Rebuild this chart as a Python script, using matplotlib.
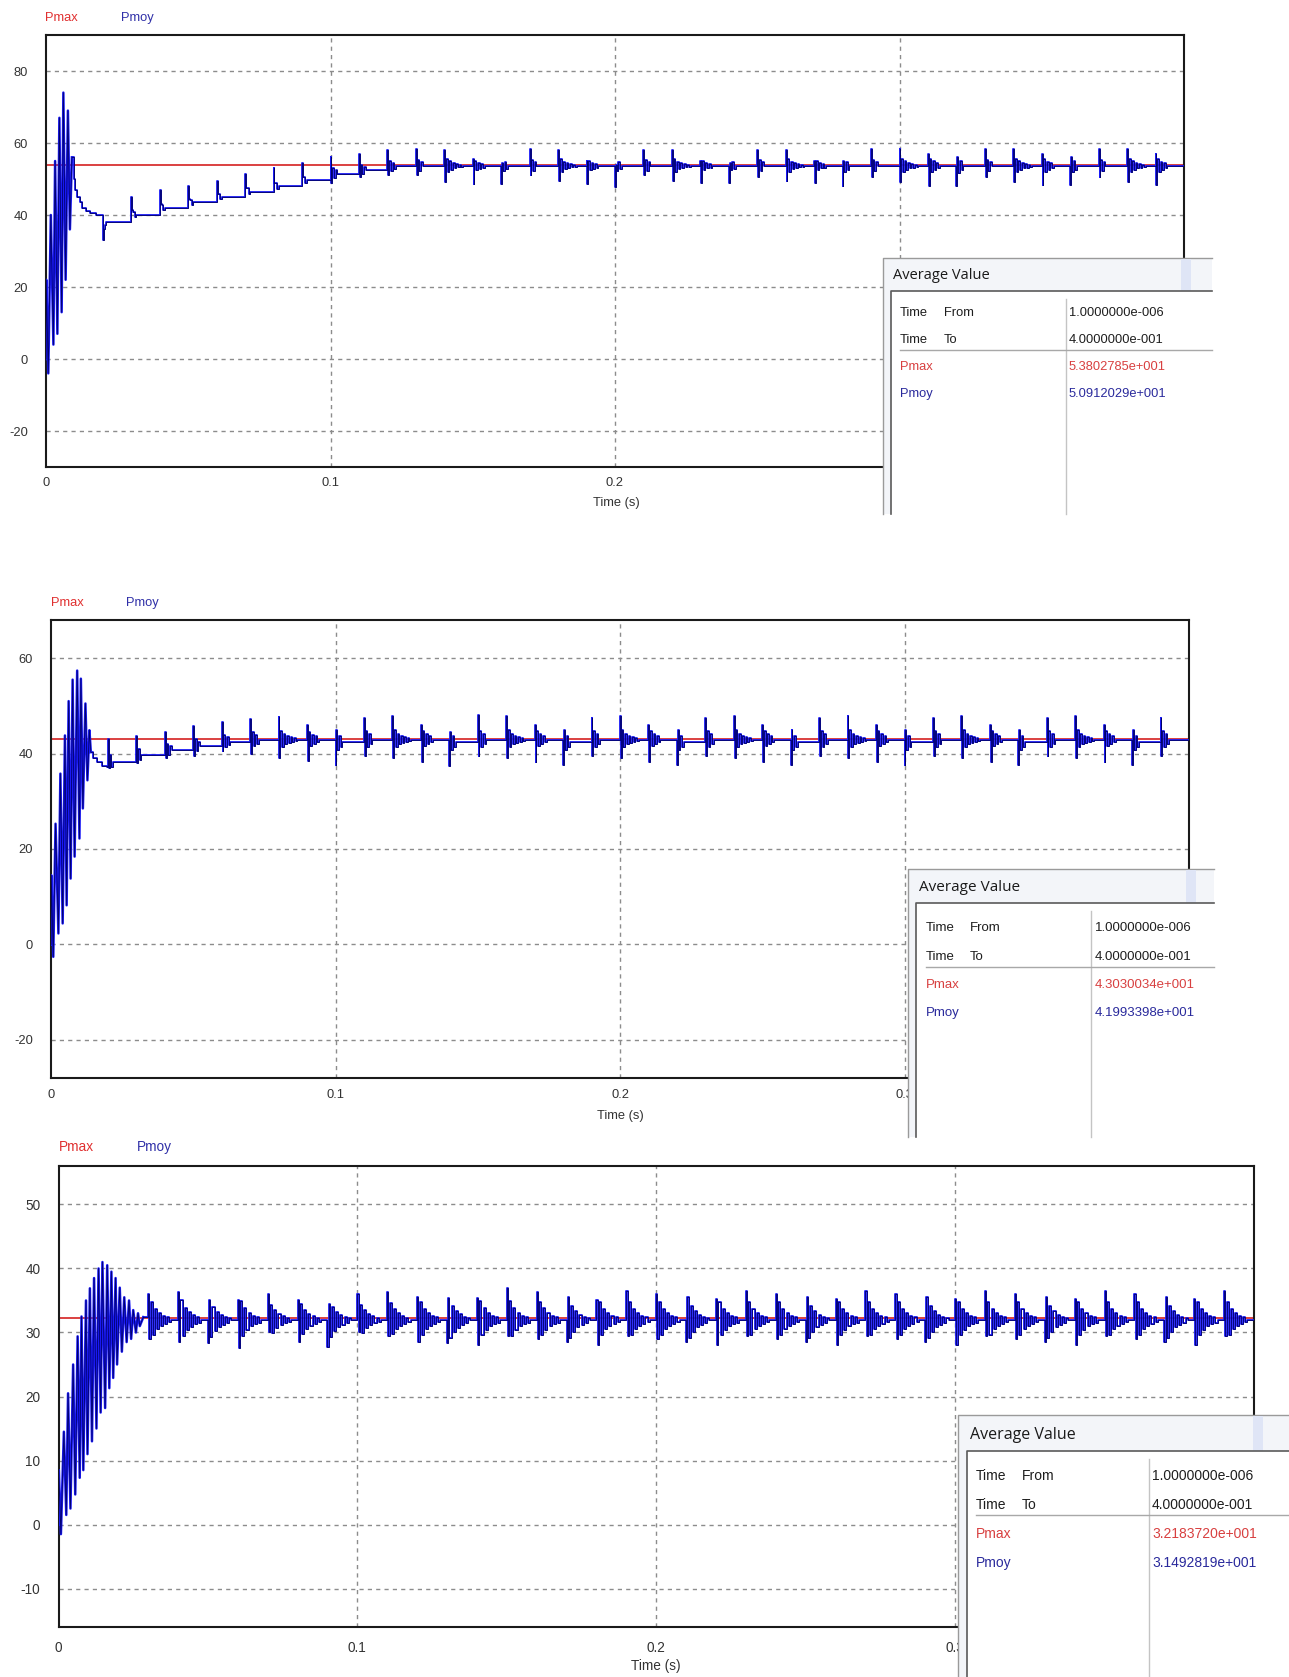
import matplotlib
matplotlib.use("Agg")
import matplotlib.pyplot as plt
from matplotlib.patches import Rectangle

W, H = 1289, 1677
DPI = 100

# ---------------- shared ----------------
time_ticks = [0, 0.1, 0.2, 0.3, 0.4]
time_tick_labels = ["0", "0.1", "0.2", "0.3", "0.4"]
ring_frac = [1.0, 0.8, 0.64, 0.5, 0.4, 0.32, 0.25, 0.2, 0.16, 0.12, 0.1, 0.08]
dialog_rows = ["Time", "Time", "Pmax", "Pmoy"]
dialog_rows2 = ["From", "To", "", ""]

# ---------------- panel 1 ----------------
p1_yticks = [-20, 0, 20, 40, 60, 80]
p1_ylim = [-30, 90]
p1_pmax_avg = 53.802785
p1_values = ["1.0000000e-006", "4.0000000e-001", "5.3802785e+001", "5.0912029e+001"]
p1_start_t = [0.0, 0.0001, 0.0008, 0.0017, 0.0026, 0.0032, 0.0040, 0.0047, 0.0055,
              0.0061, 0.0069, 0.0077, 0.0084, 0.0091]
p1_start_v = [0, 22, -4, 40, 4, 55, 7, 67, 13, 74, 22, 69, 36, 56]
p1_settle_t = [0.0091, 0.0097, 0.0103, 0.0110, 0.0118, 0.0128, 0.0140, 0.0155, 0.0175]
p1_settle_v = [56, 50, 47, 45, 43.5, 42, 41, 40.5, 40]
p1_burst_t = [0.02, 0.03, 0.04, 0.05, 0.06, 0.07, 0.08, 0.09, 0.10, 0.11, 0.12,
              0.13, 0.14, 0.15, 0.16, 0.17, 0.18, 0.19, 0.20, 0.21, 0.22, 0.23,
              0.24, 0.25, 0.26, 0.27, 0.28, 0.29, 0.30, 0.31, 0.32, 0.33, 0.34,
              0.35, 0.36, 0.37, 0.38, 0.39]
p1_burst_up = [36, 45, 47, 48, 49.5, 51.5, 53, 54.5, 56, 57, 58,
               58.2, 58, 55.5, 54.5, 58.2, 58, 55, 54, 58, 58, 55,
               54.5, 58, 58, 55, 55, 58.4, 58.4, 57, 56, 58.4, 58.4,
               57, 56, 58.4, 58.4, 57]
p1_burst_dn = [33, 41.5, 43, 44.5, 46, 47.5, 49, 50.5, 49, 50.5, 51,
               51, 49.2, 48.7, 48.5, 51, 49.5, 48.5, 47.8, 51, 49.5, 49,
               49, 50.5, 49.5, 49, 48, 50.5, 49.2, 48, 48, 50.6, 49.2,
               48.3, 48.3, 50.6, 49.2, 48.3]
p1_burst_base = [38, 40, 42, 43.5, 45, 46.5, 48, 49.7, 51.5, 52.5, 53.5] + [53.6] * 27
p1_burst_ring = [1, 2, 2, 2, 2, 2, 2, 2, 3, 3, 4] + [3, 10, 6, 3] * 6 + [3, 10, 6]
p1_burst_first = ["d"] + ["u"] * 10 + ["u", "u", "u", "d"] * 6 + ["u", "u", "u"]

# ---------------- panel 2 ----------------
p2_yticks = [-20, 0, 20, 40, 60]
p2_ylim = [-28, 68]
p2_pmax_avg = 43.030034
p2_values = ["1.0000000e-006", "4.0000000e-001", "4.3030034e+001", "4.1993398e+001"]
p2_start_t = [0.0, 0.0001, 0.0008, 0.0016, 0.0026, 0.0033, 0.0041, 0.0049, 0.0055,
              0.0062, 0.0069, 0.0076, 0.0083, 0.0092, 0.0100, 0.0105, 0.0112,
              0.0121, 0.0128, 0.0135, 0.0140]
p2_start_v = [0, 14.5, -2.6, 25.3, 2.3, 35.8, 4.4, 43.8, 8.2, 51, 13.8, 55.5, 18.4,
              57.4, 22.2, 55.7, 28.5, 50.5, 34.4, 44.9, 40.3]
p2_settle_t = [0.0140, 0.0149, 0.0160, 0.0178, 0.0196]
p2_settle_v = [40.3, 39, 38.3, 37.5, 37.2]
p2_burst_t = p1_burst_t
p2_burst_up = [43, 43.7, 44.5, 45.7, 46.6, 47.3, 47.6, 46, 45, 47.5, 47.8, 46, 44.5,
               48, 47.8, 46, 45, 47.5, 47.8, 46, 45, 47.5, 47.8, 46, 45, 47.5, 47.8,
               46, 45, 47.5, 47.8, 46, 45, 47.5, 47.8, 46, 45, 47.5]
p2_burst_dn = [37, 38, 39, 39.5, 40.5, 40, 39, 38.4, 37.7, 39.5, 39, 38.2, 37.5,
               39.5, 39, 38.3, 37.6, 39.5, 39, 38.3, 37.6, 39.5, 39, 38.3, 37.6, 39.5,
               39, 38.3, 37.6, 39.5, 39, 38.3, 37.6, 39.5, 39, 38.3, 37.6, 39.5]
p2_burst_base = [38.3, 39.6, 40.7, 41.6, 42.5] + [42.9, 42.9, 42.9, 42.4] * 8 + [42.9]
p2_burst_ring = [2, 2, 3, 3, 4] + [4, 10, 6, 3] * 8 + [4]
p2_burst_first = ["u"] * 5 + ["u", "u", "u", "d"] * 8 + ["u"]

# ---------------- panel 3 ----------------
p3_yticks = [-10, 0, 10, 20, 30, 40, 50]
p3_ylim = [-16, 56]
p3_pmax_avg = 32.183720
p3_values = ["1.0000000e-006", "4.0000000e-001", "3.2183720e+001", "3.1492819e+001"]
p3_start_t = [0.0, 0.0001, 0.0008, 0.0018, 0.0026, 0.0032, 0.0040, 0.0049, 0.0056,
              0.0064, 0.0071, 0.0077, 0.0083, 0.0092, 0.0097, 0.0105, 0.0112,
              0.0119, 0.0127, 0.0134, 0.0141, 0.0147, 0.0156, 0.0163, 0.0170,
              0.0177, 0.0183, 0.0191, 0.0196, 0.0205, 0.0212, 0.0220, 0.0228,
              0.0236, 0.0243, 0.0250, 0.0259, 0.0266, 0.0272, 0.0284]
p3_start_v = [0, 8.5, -1.5, 14.5, 1.5, 20.5, 2.5, 25, 4.7, 29.4, 7.3, 32.5, 8.5, 35,
              11, 36.9, 13, 38.5, 15, 40, 17.5, 41, 18.2, 40.5, 21.3, 39.5, 22.9,
              38.5, 25, 37, 27, 35.5, 28.5, 35, 29, 33.5, 30, 33, 31, 32.4]
p3_settle_t = [0.0284]
p3_settle_v = [32.4]
p3_burst_t = p1_burst_t[1:]
p3_burst_up = [36, 36.3, 35, 35, 36, 35, 34.5, 36, 36.3, 35.5, 35.4, 35.4, 37,
               36.3, 35.5, 35, 36.5, 36, 35.5, 35.2, 36.5, 36, 35.5, 35.2, 36.5,
               36, 35.5, 35.2, 36.5, 36, 35.5, 35.2, 36.5, 36, 35.5, 35.2, 36.5]
p3_burst_dn = [29, 28.5, 28.3, 27.5, 30, 28.5, 27.8, 30, 29.5, 28.5, 28.3, 28, 29.5,
               29, 28.5, 28, 29.5, 29, 28.5, 28, 29.5, 29, 28.5, 28, 29.5, 29, 28.5,
               28, 29.5, 29, 28.5, 28, 29.5, 29, 28.5, 28, 29.5]
p3_burst_base = [31.9] * 37
p3_burst_ring = [10] * 37
p3_burst_first = ["u", "u", "d", "u"] * 9 + ["u"]


def build_steps(set_t, set_v, bt, bu, bd, bb, bn, bf, hold, dt, rscale, tend=0.4):
    t = list(set_t)
    v = list(set_v)
    for i, t0 in enumerate(bt):
        first = [bu[i], bd[i]] if bf[i] == "u" else [bd[i], bu[i]]
        t.extend([t0, t0 + hold])
        v.extend(first)
        a0 = rscale * (bu[i] - bd[i]) / 2.0
        sign = 1 if bf[i] == "u" else -1
        tk = t0 + 2 * hold
        for k in range(bn[i]):
            t.append(tk)
            v.append(bb[i] + sign * a0 * ring_frac[k])
            sign = -sign
            tk += dt
        t.append(tk)
        v.append(bb[i])
    t.append(tend)
    v.append(v[-1])
    return t, v


fig = plt.figure(figsize=(W / DPI, H / DPI), dpi=DPI)
fig.patch.set_facecolor("white")

FONT = ["Liberation Sans", "DejaVu Sans"]
TXT = "#333333"
RED = "#d42020"


def add_panel(rect, ylim, yticks, pmax, st, sv, steps, fs, xpad):
    l, t, r, b = rect
    ax = fig.add_axes([l / W, 1 - b / H, (r - l) / W, (b - t) / H])
    ax.set_xlim(0, 0.4)
    ax.set_ylim(*ylim)
    ax.set_xticks(time_ticks)
    ax.set_xticklabels(time_tick_labels)
    ax.set_yticks(yticks)
    ax.set_yticklabels([str(y) for y in yticks])
    ax.tick_params(length=0, labelsize=fs, labelcolor=TXT)
    ax.tick_params(axis="y", pad=13)
    ax.tick_params(axis="x", pad=xpad)
    for lab in ax.get_xticklabels() + ax.get_yticklabels():
        lab.set_family(FONT)
    for s in ax.spines.values():
        s.set_color("#1a1a1a")
        s.set_linewidth(1.5)
    for y in yticks:
        ax.axhline(y, color="#8c8c8c", lw=1.0, dashes=(3, 3), zorder=1)
    for x in time_ticks[1:4]:
        ax.axvline(x, color="#8c8c8c", lw=1.0, dashes=(3, 3), zorder=1)
    ax.axhline(pmax, color=RED, lw=1.2, zorder=2)
    # start-up oscillation
    ax.plot(st, sv, color="#1a1af5", lw=1.8, zorder=3)
    ax.plot(st, sv, color="#00006a", lw=0.6, zorder=4)
    # settling staircase and periodic bursts
    tw, vw = steps
    ax.plot(tw, vw, drawstyle="steps-post", color="#1a1af5", lw=1.3, zorder=3)
    ax.plot(tw, vw, drawstyle="steps-post", color="#00006a", lw=0.6, zorder=4)
    return ax


s1 = build_steps(p1_settle_t, p1_settle_v, p1_burst_t, p1_burst_up, p1_burst_dn,
                 p1_burst_base, p1_burst_ring, p1_burst_first, 0.0003, 0.0006, 0.45)
s2 = build_steps(p2_settle_t, p2_settle_v, p2_burst_t, p2_burst_up, p2_burst_dn,
                 p2_burst_base, p2_burst_ring, p2_burst_first, 0.0003, 0.0006, 0.45)
s3 = build_steps(p3_settle_t, p3_settle_v, p3_burst_t, p3_burst_up, p3_burst_dn,
                 p3_burst_base, p3_burst_ring, p3_burst_first, 0.0004, 0.0007, 0.8)

add_panel((46, 35, 1184, 467), p1_ylim, p1_yticks, p1_pmax_avg,
          p1_start_t, p1_start_v, s1, 9.3, 7)
add_panel((51, 620, 1189, 1078), p2_ylim, p2_yticks, p2_pmax_avg,
          p2_start_t, p2_start_v, s2, 9.3, 8)
add_panel((58.5, 1166, 1254, 1627), p3_ylim, p3_yticks, p3_pmax_avg,
          p3_start_t, p3_start_v, s3, 9.8, 10)

# overlay in pixel coordinates
ov = fig.add_axes([0, 0, 1, 1], zorder=10)
ov.set_xlim(0, W)
ov.set_ylim(H, 0)
ov.axis("off")
ov.patch.set_alpha(0)

for (xm, xp, y, fs) in [(45, 121, 18, 9.3), (51, 126, 603, 9.3), (59, 137, 1147, 9.8)]:
    ov.text(xm, y, "Pmax", color="#e03030", fontsize=fs, family=FONT, ha="left", va="center")
    ov.text(xp, y, "Pmoy", color="#3030a8", fontsize=fs, family=FONT, ha="left", va="center")
for (x, y, fs) in [(616, 503, 9.3), (620, 1116, 9.3), (656, 1666, 9.8)]:
    ov.text(x, y, "Time (s)", color=TXT, fontsize=fs, family=FONT, ha="center", va="center")


def dialog(left, top, right, bottom, title_x, title_y, in_left, in_top, rows, sep,
           div, c1, c2, cv, stripe, fs, tfs, values):
    ov.add_patch(Rectangle((left, top), right - left, bottom - top, facecolor="#f3f5f9",
                           edgecolor="none", zorder=1))
    ov.plot([left, left, right], [bottom, top, top], color="#9a9a9a", lw=1.0, zorder=2)
    ov.add_patch(Rectangle((stripe, top + 1), 10, in_top - top - 1, facecolor="#dfe5f6",
                           edgecolor="none", zorder=2))
    ov.add_patch(Rectangle((in_left, in_top), right - in_left, bottom - in_top,
                           facecolor="white", edgecolor="none", zorder=3))
    ov.plot([in_left, in_left, right], [bottom, in_top, in_top], color="#5a5a5a",
            lw=1.2, zorder=4)
    ov.text(title_x, title_y, "Average Value", fontsize=tfs, color="#1a1a1a",
            family=["Open Sans", "DejaVu Sans"], ha="left", va="center", zorder=5)
    ov.plot([div, div], [in_top + 8, bottom], color="#c4c4c4", lw=1.0, zorder=4)
    ov.plot([c1, right], [sep, sep], color="#a8a8a8", lw=1.0, zorder=4)
    cols = ["#1e1e1e", "#1e1e1e", "#d84040", "#2a2a9c"]
    for i, y in enumerate(rows):
        ov.text(c1, y, dialog_rows[i], fontsize=fs, color=cols[i], family=FONT,
                ha="left", va="center", zorder=5)
        if dialog_rows2[i]:
            ov.text(c2, y, dialog_rows2[i], fontsize=fs, color=cols[i], family=FONT,
                    ha="left", va="center", zorder=5)
        ov.text(cv, y, values[i], fontsize=fs, color=cols[i], family=FONT,
                ha="left", va="center", zorder=5)


dialog(883, 258, 1212, 514, 893, 275, 891, 291, [313, 340, 367, 394], 350, 1066,
       900, 944, 1069, 1181, 9.3, 10.5, p1_values)
dialog(908, 869, 1214, 1137, 919, 887, 916, 903, [928, 957, 985, 1013], 967, 1091,
       926, 970, 1095, 1186, 9.5, 11, p2_values)
dialog(958, 1415, 1290, 1678, 970, 1435, 967, 1451, [1476, 1505, 1534, 1563], 1515,
       1149, 976, 1022, 1152, 1253, 10, 11.5, p3_values)

fig.savefig("out.png", dpi=DPI, facecolor="white")
